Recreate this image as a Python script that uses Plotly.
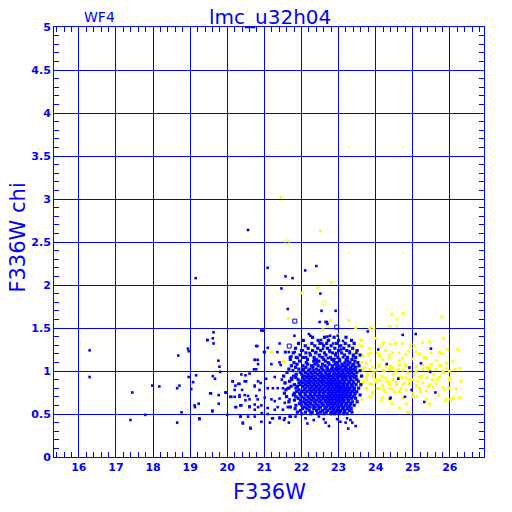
import plotly.graph_objects as go

# ---------------- data ----------------
# sparse blue stars: (F336W, chi)
blue_sparse = [
    (16.29, 1.24), (16.29, 0.93), (17.44, 0.75), (17.39, 0.43), (17.79, 0.49),
    (17.98, 0.83), (18.17, 0.82), (18.68, 1.18), (18.65, 0.80), (18.71, 0.83),
    (18.65, 0.40), (18.77, 0.52), (18.94, 1.26), (18.96, 1.23), (18.96, 0.93),
    (19.03, 0.79), (19.08, 0.87), (19.16, 0.95), (19.12, 0.60), (19.13, 0.58),
    (19.23, 0.62), (19.25, 0.45), (19.46, 1.36), (19.15, 2.08), (19.54, 0.74),
    (19.77, 0.72), (19.77, 0.62), (19.60, 0.53), (19.97, 0.75), (20.00, 0.49),
    (19.63, 1.45), (19.47, 1.36), (19.63, 1.32), (19.76, 1.12), (19.79, 1.05),
    (19.81, 0.99), (19.61, 0.94), (19.67, 0.91), (19.56, 0.74), (19.95, 0.75),
    (19.25, 0.44), (19.60, 0.54), (19.61, 1.38),
    (20.56, 2.64), (21.09, 2.20), (21.57, 2.10), (21.76, 2.08), (22.10, 2.17),
    (22.40, 2.22), (21.46, 1.96), (22.51, 1.90), (21.63, 1.72), (22.54, 1.70),
    (22.92, 1.70), (22.49, 1.57), (22.68, 1.57), (22.70, 1.55),
    (20.92, 1.47), (20.96, 1.47), (20.81, 1.29), (21.09, 1.27), (21.41, 1.32),
    (20.99, 1.22), (21.35, 1.22), (21.56, 1.22), (20.75, 1.13), (20.82, 1.13),
    (21.19, 1.08), (21.44, 1.07), (21.69, 1.16), (20.72, 1.02), (20.78, 1.02),
    (20.38, 0.96), (20.49, 0.95), (20.60, 0.97), (20.14, 0.88), (20.30, 0.85),
    (20.47, 0.88), (20.83, 0.88), (20.90, 0.86), (21.05, 0.91), (21.28, 0.93),
    (21.47, 0.90), (21.55, 0.86), (21.72, 0.92), (20.20, 0.78), (20.74, 0.82),
    (20.87, 0.78), (21.09, 0.80), (21.23, 0.80), (21.36, 0.80), (21.50, 0.80),
    (21.63, 0.80), (19.97, 0.75), (20.11, 0.70), (20.33, 0.70), (20.47, 0.72),
    (20.60, 0.67), (20.78, 0.71), (20.82, 0.67), (21.01, 0.69), (21.19, 0.67),
    (21.28, 0.65), (21.41, 0.68), (21.55, 0.63), (21.68, 0.67), (20.24, 0.58),
    (20.38, 0.60), (20.60, 0.58), (20.74, 0.55), (20.83, 0.58), (20.92, 0.60),
    (21.09, 0.57), (21.28, 0.55), (21.36, 0.58), (21.50, 0.55), (21.63, 0.58),
    (20.36, 0.47), (20.56, 0.47), (20.74, 0.47), (20.93, 0.51), (21.09, 0.50),
    (21.23, 0.45), (21.41, 0.45), (21.55, 0.45), (21.68, 0.47), (20.42, 0.39),
    (20.63, 0.33), (20.92, 0.41), (21.15, 0.40),
    (20.08, 0.70), (20.20, 0.70), (20.15, 0.88), (20.22, 0.83), (20.33, 0.85),
    (20.22, 0.58), (20.35, 0.60), (20.33, 0.72), (20.35, 0.47), (20.42, 0.40),
    (20.49, 0.66), (20.62, 0.34), (20.56, 0.71), (20.60, 0.59), (20.74, 0.83),
    (20.74, 0.61), (20.40, 0.78), (20.51, 0.88),
    (20.78, 1.29), (20.74, 1.13), (21.01, 1.22), (20.83, 1.08), (21.41, 1.10),
    (21.57, 1.22), (21.66, 1.22), (21.82, 1.22), (21.81, 1.41),
    (22.20, 1.43), (22.24, 1.41), (22.53, 1.36), (22.56, 1.32),
    (22.65, 1.57), (22.70, 1.40), (22.74, 1.36), (22.77, 1.41), (22.98, 1.41),
    (22.85, 1.32), (23.03, 1.29), (23.12, 1.35), (22.04, 1.24), (22.22, 1.21),
    (22.40, 1.22), (22.58, 1.26), (22.76, 1.22), (22.94, 1.21), (23.07, 1.25),
    (23.30, 1.23), (23.48, 1.21), (21.73, 1.17), (21.90, 1.15), (22.13, 1.16),
    (22.35, 1.14), (22.49, 1.17), (22.71, 1.15), (22.89, 1.14), (23.12, 1.16),
    (23.25, 1.15), (23.39, 1.17),
    (21.21, 0.45), (21.41, 0.46), (21.53, 0.43), (21.66, 0.40), (21.84, 0.47),
    (22.11, 0.45), (22.16, 0.39), (22.33, 0.43), (22.60, 0.44), (22.65, 0.40),
    (22.74, 0.36), (22.96, 0.44), (23.05, 0.41), (23.19, 0.40), (23.23, 0.45),
    (23.32, 0.43), (23.37, 0.40), (23.46, 0.36), (23.26, 0.33), (22.47, 0.47),
    (21.71, 0.47),
    (23.79, 1.46), (24.73, 1.42), (25.08, 1.43), (25.49, 1.26), (24.07, 1.25),
    (24.30, 1.08), (25.22, 1.09), (25.47, 0.99), (24.91, 1.04), (24.61, 0.91),
    (24.97, 0.78), (25.61, 0.75), (24.39, 0.68), (24.79, 0.70), (25.31, 0.64),
    (24.40, 0.69),
]

# dense blue core: rows of (chi, [F336W ...])
blue_core = [
    (1.392, [22.30, 22.62, 22.88, 23.20]),
    (1.356, [22.05, 22.45, 22.72, 23.00, 23.35]),
    (1.321, [21.92, 22.28, 22.50, 22.68, 22.94, 23.18, 23.42]),
    (1.293, [22.10, 22.36, 22.60, 22.80, 23.06, 23.28]),
    (1.264, [21.84, 22.18, 22.44, 22.70, 22.90, 23.14, 23.38]),
    (1.238, [22.00, 22.30, 22.52, 22.76, 23.00, 23.22, 23.50]),
    (1.211, [21.78, 22.12, 22.38, 22.62, 22.84, 23.08, 23.30]),
    (1.186, [21.96, 22.24, 22.48, 22.66, 22.92, 23.16, 23.40, 23.58]),
    (1.158, [21.86, 22.06, 22.34, 22.56, 22.78, 22.98, 23.24, 23.46]),
    (1.135, [21.70, 22.16, 22.40, 22.60, 22.82, 23.02, 23.20, 23.36]),
    (1.115, [21.95, 22.33, 22.47, 22.65, 22.87, 23.03, 23.25, 23.44]),
    (1.097, [21.80, 22.13, 22.41, 22.72, 22.95, 23.17, 23.31, 23.52]),
    (1.079, [21.88, 22.17, 22.36, 22.57, 22.75, 22.91, 23.09, 23.26, 23.41]),
    (1.061, [21.73, 22.04, 22.27, 22.45, 22.63, 22.84, 22.99, 23.13, 23.22, 23.37, 23.55]),
    (1.043, [21.84, 22.12, 22.31, 22.53, 22.69, 22.83, 22.95, 23.06, 23.19, 23.32, 23.46]),
    (1.022, [21.66, 21.93, 22.06, 22.23, 22.41, 22.56, 22.70, 22.81, 22.91, 23.01, 23.15, 23.27, 23.39]),
    (1.004, [21.77, 22.03, 22.19, 22.32, 22.47, 22.61, 22.73, 22.85, 22.97, 23.09, 23.21, 23.33, 23.45, 23.58]),
    (0.983, [21.61, 21.97, 22.11, 22.25, 22.37, 22.51, 22.65, 22.77, 22.89, 23.01, 23.12, 23.25, 23.35, 23.49]),
    (0.962, [21.86, 22.01, 22.17, 22.29, 22.43, 22.55, 22.67, 22.75, 22.87, 22.95, 23.07, 23.17, 23.29, 23.41]),
    (0.941, [21.52, 21.79, 22.08, 22.21, 22.35, 22.49, 22.59, 22.71, 22.81, 22.93, 23.03, 23.13, 23.23, 23.35, 23.47, 23.62]),
    (0.923, [21.85, 22.03, 22.15, 22.27, 22.39, 22.53, 22.63, 22.73, 22.85, 22.97, 23.09, 23.19, 23.31, 23.43]),
    (0.902, [21.74, 21.91, 22.07, 22.21, 22.33, 22.45, 22.57, 22.69, 22.79, 22.89, 22.99, 23.11, 23.21, 23.33, 23.49]),
    (0.881, [21.68, 21.99, 22.13, 22.25, 22.37, 22.51, 22.61, 22.73, 22.83, 22.93, 23.03, 23.15, 23.27, 23.39, 23.53]),
    (0.862, [21.56, 21.93, 22.05, 22.19, 22.31, 22.43, 22.55, 22.67, 22.77, 22.87, 22.97, 23.07, 23.17, 23.29, 23.41]),
    (0.841, [21.81, 21.97, 22.11, 22.23, 22.35, 22.47, 22.59, 22.71, 22.81, 22.91, 23.01, 23.13, 23.23, 23.35, 23.47, 23.60]),
    (0.822, [21.72, 21.89, 22.03, 22.17, 22.29, 22.41, 22.53, 22.65, 22.75, 22.85, 22.95, 23.05, 23.15, 23.25, 23.37]),
    (0.801, [21.66, 21.85, 22.11, 22.25, 22.37, 22.49, 22.61, 22.73, 22.83, 22.93, 23.03, 23.11, 23.21, 23.31, 23.43, 23.54]),
    (0.782, [21.58, 21.93, 22.07, 22.21, 22.33, 22.45, 22.57, 22.69, 22.79, 22.89, 22.99, 23.09, 23.19, 23.29, 23.41]),
    (0.761, [21.87, 22.01, 22.15, 22.27, 22.39, 22.51, 22.63, 22.75, 22.85, 22.95, 23.05, 23.15, 23.25, 23.37, 23.49]),
    (0.742, [21.54, 21.81, 21.95, 22.09, 22.23, 22.35, 22.47, 22.59, 22.71, 22.81, 22.91, 23.01, 23.13, 23.23, 23.33, 23.45]),
    (0.721, [21.78, 21.97, 22.11, 22.25, 22.37, 22.49, 22.61, 22.73, 22.83, 22.93, 23.03, 23.11, 23.21, 23.31, 23.43, 23.58]),
    (0.702, [21.60, 21.85, 22.01, 22.17, 22.29, 22.43, 22.55, 22.67, 22.77, 22.87, 22.97, 23.07, 23.17, 23.27, 23.39]),
    (0.683, [21.91, 22.07, 22.21, 22.33, 22.47, 22.59, 22.71, 22.81, 22.91, 23.01, 23.11, 23.23, 23.35, 23.46]),
    (0.661, [21.81, 21.97, 22.13, 22.27, 22.41, 22.53, 22.65, 22.75, 22.85, 22.95, 23.05, 23.15, 23.27]),
    (0.642, [21.66, 22.05, 22.19, 22.35, 22.49, 22.63, 22.73, 22.83, 22.93, 23.03, 23.13, 23.25, 23.37, 23.50]),
    (0.621, [21.95, 22.11, 22.25, 22.39, 22.55, 22.69, 22.79, 22.89, 22.99, 23.09, 23.21, 23.33]),
    (0.602, [21.85, 22.01, 22.17, 22.31, 22.45, 22.59, 22.73, 22.85, 22.97, 23.07, 23.19, 23.31, 23.42]),
    (0.581, [21.70, 22.09, 22.23, 22.37, 22.51, 22.67, 22.81, 22.91, 23.01, 23.13, 23.27]),
    (0.562, [21.83, 22.03, 22.15, 22.33, 22.47, 22.63, 22.77, 22.87, 22.99, 23.11, 23.23, 23.34]),
    (0.541, [21.97, 22.21, 22.41, 22.57, 22.71, 22.85, 22.95, 23.05, 23.17, 23.29]),
    (0.522, [21.89, 22.11, 22.29, 22.51, 22.67, 22.81, 22.93, 23.03, 23.15, 23.36]),
    (0.503, [22.01, 22.25, 22.43, 22.61, 22.79, 22.89, 23.01, 23.13, 23.23]),
]

blue_open = [(21.82, 1.58), (22.95, 1.51), (21.67, 1.29)]

yellow_pts = [
    (21.45, 3.02), (22.51, 2.63), (22.81, 2.03), (22.45, 1.97), (22.02, 1.91),
    (21.64, 1.61), (22.78, 1.59), (23.27, 1.59), (22.70, 1.53),
    (21.19, 1.22), (21.52, 1.11), (22.15, 1.30),
    (22.58, 1.48), (22.76, 1.58), (22.68, 1.40), (22.98, 1.42), (23.28, 1.59),
    (23.46, 1.50), (23.86, 1.51), (23.59, 1.36), (23.43, 1.29), (23.46, 1.24),
    (22.85, 1.13), (23.03, 1.02), (23.28, 1.10), (23.52, 0.94), (23.57, 0.86),
    (23.76, 0.90), (23.64, 0.67), (23.91, 0.74), (22.18, 1.31), (24.37, 1.52),
    (24.19, 1.31),
    (24.43, 1.66), (24.75, 1.67), (25.78, 1.63), (24.39, 1.52), (24.57, 1.52),
    (23.84, 1.49), (23.95, 1.49), (24.00, 1.38), (23.62, 1.36),
    (23.57, 1.30), (23.64, 1.29), (24.21, 1.33), (24.39, 1.31), (24.53, 1.32),
    (24.72, 1.32), (25.26, 1.33), (25.45, 1.34), (25.83, 1.38), (24.57, 1.60),
    (23.43, 1.22), (23.50, 1.22), (23.84, 1.26), (23.87, 1.21), (24.05, 1.21),
    (24.10, 1.18), (24.37, 1.19), (24.46, 1.21), (24.63, 1.21), (24.82, 1.19),
    (24.89, 1.23), (25.09, 1.22), (25.18, 1.20), (25.49, 1.21), (25.72, 1.22),
    (25.78, 1.20), (25.94, 1.25), (26.21, 1.25),
    (24.37, 1.15), (24.19, 1.13), (24.64, 1.12), (24.73, 1.15), (25.00, 1.14),
    (25.36, 1.15), (25.65, 1.12), (25.90, 1.09), (26.08, 1.11),
    (23.40, 1.09), (23.57, 1.07), (23.75, 1.09), (23.92, 1.05), (24.10, 1.07),
    (24.28, 1.05), (24.46, 1.04), (24.64, 1.07), (24.82, 1.05), (25.09, 1.05),
    (25.27, 1.07), (25.45, 1.04), (25.72, 1.07), (25.90, 1.03), (26.26, 1.03),
    (23.66, 1.01), (23.84, 1.02), (24.02, 1.01), (24.19, 1.01), (24.37, 1.02),
    (24.55, 1.00), (24.73, 1.01), (24.91, 1.02), (25.09, 1.00), (25.27, 1.02),
    (25.45, 1.01), (25.63, 1.02), (25.81, 1.00), (25.99, 1.00),
    (23.57, 0.93), (23.75, 0.92), (23.92, 0.94), (24.10, 0.90), (24.28, 0.92),
    (24.46, 0.90), (24.64, 0.93), (24.82, 0.92), (25.00, 0.90), (25.18, 0.93),
    (25.36, 0.92), (25.54, 0.90), (25.72, 0.93), (25.99, 0.89),
    (23.48, 0.86), (23.66, 0.88), (23.84, 0.85), (24.02, 0.87), (24.19, 0.83),
    (24.37, 0.85), (24.55, 0.87), (24.73, 0.84), (24.91, 0.85), (25.09, 0.83),
    (25.27, 0.86), (25.45, 0.84), (25.63, 0.85), (25.81, 0.81),
    (23.75, 0.79), (23.92, 0.76), (24.10, 0.80), (24.28, 0.75), (24.46, 0.79),
    (24.64, 0.76), (24.82, 0.78), (25.00, 0.74), (25.18, 0.80), (25.36, 0.77),
    (25.54, 0.81), (25.99, 0.80), (26.17, 0.79),
    (23.84, 0.70), (24.19, 0.69), (24.37, 0.67), (24.73, 0.69), (25.09, 0.70),
    (25.36, 0.67), (25.90, 0.67), (26.08, 0.69), (26.26, 0.69),
    (24.64, 0.57), (24.82, 0.62), (25.45, 0.62), (24.91, 0.52), (24.85, 0.52),
    (26.02, 0.67), (26.10, 0.68), (25.88, 0.66),
    (23.62, 1.10), (23.70, 1.04), (23.78, 0.96), (23.86, 1.12), (23.95, 0.98),
    (24.00, 0.90), (24.08, 1.05), (24.16, 0.94), (24.24, 1.00), (24.32, 0.88),
    (24.40, 1.06), (24.48, 0.96), (24.56, 0.84), (24.62, 1.02), (24.70, 0.92),
    (24.78, 0.86), (24.86, 0.98), (23.68, 0.86), (23.74, 0.80), (23.90, 0.84),
    (24.04, 0.80), (24.22, 0.78), (24.38, 0.80), (24.52, 0.76), (24.68, 0.80),
    (24.92, 0.90), (25.04, 0.96), (25.14, 0.88), (25.24, 0.94), (25.38, 1.04),
    (25.56, 0.96), (25.66, 0.90), (25.84, 0.98), (26.00, 0.92), (23.80, 1.20),
    (24.26, 1.24), (24.12, 1.28), (23.66, 1.18), (23.58, 1.02), (24.80, 1.08),
    (25.30, 1.16), (25.50, 1.08), (25.76, 1.06), (26.14, 1.02), (26.30, 0.88),
    (25.96, 0.80), (25.42, 0.82), (25.20, 0.76), (25.00, 0.70), (24.44, 0.62),
    (24.16, 0.66), (23.84, 0.70), (25.70, 0.72), (25.86, 0.78),
]
yellow_open = [(21.61, 2.50), (22.60, 1.79), (24.99, 1.29)]

x_ticks = [16, 17, 18, 19, 20, 21, 22, 23, 24, 25, 26]
y_ticks = [0, 0.5, 1, 1.5, 2, 2.5, 3, 3.5, 4, 4.5, 5]
y_tick_text = ["0", "0.5", "1", "1.5", "2", "2.5", "3", "3.5", "4", "4.5", "5"]

title_text = "lmc_u32h04"
chip_text = "WF4"
x_title = "F336W"
y_title = "F336W chi"

# ---------------- build ----------------
BLUE = "#0000ff"
YEL = "#ffff00"

sx = [p[0] for p in blue_sparse]
sy = [p[1] for p in blue_sparse]
cx, cy = [], []
for yv, xs in blue_core:
    for xv in xs:
        cx.append(xv)
        cy.append(yv)

fig = go.Figure()
fig.add_trace(go.Scatter(
    x=[p[0] for p in yellow_pts], y=[p[1] for p in yellow_pts], mode="markers",
    marker=dict(symbol="square", size=2.8, color=YEL, line=dict(width=0)),
    hoverinfo="skip"))
fig.add_trace(go.Scatter(
    x=[p[0] for p in yellow_open], y=[p[1] for p in yellow_open], mode="markers",
    marker=dict(symbol="square-open", size=4, color=YEL, line=dict(width=1, color=YEL)),
    hoverinfo="skip"))
fig.add_trace(go.Scatter(
    x=sx, y=sy, mode="markers",
    marker=dict(symbol="square", size=2.6, color=BLUE, line=dict(width=0)),
    hoverinfo="skip"))
fig.add_trace(go.Scatter(
    x=cx, y=cy, mode="markers",
    marker=dict(symbol="square", size=3.2, color=BLUE, line=dict(width=0)),
    hoverinfo="skip"))
fig.add_trace(go.Scatter(
    x=[p[0] for p in blue_open], y=[p[1] for p in blue_open], mode="markers",
    marker=dict(symbol="square-open", size=4, color=BLUE, line=dict(width=1, color=BLUE)),
    hoverinfo="skip"))

axis_font = dict(family="DejaVu Sans", size=11, color=BLUE, weight="bold")
fig.update_xaxes(
    range=[15.33, 26.92], tickvals=x_ticks, ticktext=[str(t) for t in x_ticks],
    showgrid=True, gridcolor=BLUE, gridwidth=1, zeroline=False, automargin=False,
    showline=True, linecolor=BLUE, linewidth=1, mirror="allticks",
    ticks="inside", ticklen=0, tickcolor=BLUE, tickfont=axis_font,
    minor=dict(dtick=0.2, tick0=16, ticks="inside", ticklen=5, tickcolor=BLUE, showgrid=False),
)
fig.update_yaxes(
    range=[0, 5], tickvals=y_ticks, ticktext=y_tick_text,
    showgrid=True, gridcolor=BLUE, gridwidth=1, zeroline=False, automargin=False,
    showline=True, linecolor=BLUE, linewidth=1, mirror="allticks",
    ticks="inside", ticklen=0, tickcolor=BLUE, tickfont=axis_font,
    minor=dict(dtick=0.1, tick0=0, ticks="inside", ticklen=5, tickcolor=BLUE, showgrid=False),
)

annots = [
    dict(text=title_text, x=0.502, y=1.024, font=dict(family="DejaVu Sans", size=20, color=BLUE)),
    dict(text=chip_text, x=0.106, y=1.024, font=dict(family="DejaVu Sans", size=14, color=BLUE)),
    dict(text=x_title, x=0.502, y=-0.082, font=dict(family="DejaVu Sans", size=21, color=BLUE)),
    dict(text=y_title, x=-0.084, y=0.51, textangle=-90, font=dict(family="DejaVu Sans", size=21, color=BLUE)),
]
for a in annots:
    fig.add_annotation(xref="paper", yref="paper", showarrow=False,
                       xanchor="center", yanchor="middle", **a)

fig.update_layout(
    width=512, height=512, autosize=False,
    margin=dict(l=54, r=28, t=27, b=55, pad=0),
    paper_bgcolor="white", plot_bgcolor="white",
    showlegend=False,
)

# remove the browser's default 8 px body margin so the 512x512 figure fills the window
fig.write_html("out.html", config={"displayModeBar": False},
               post_script="document.body.style.margin='0px';")
